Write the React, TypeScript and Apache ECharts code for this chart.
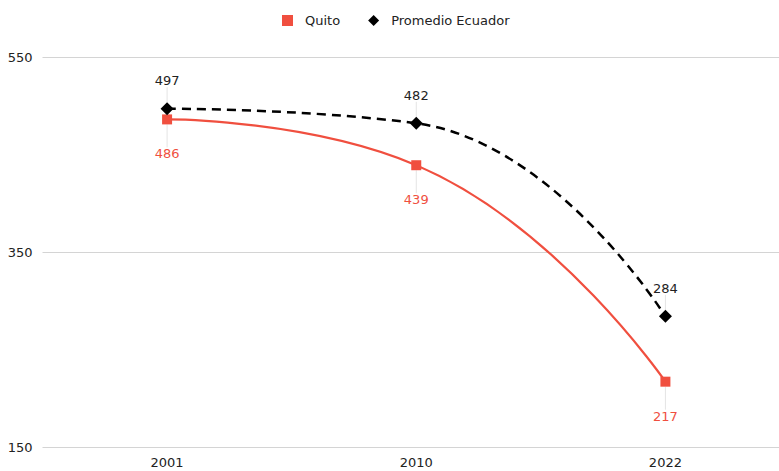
import React, { useEffect, useRef } from "react";
import * as echarts from "echarts";

const categories = ["2001", "2010", "2022"];
const quito = [486, 439, 217];
const promedio = [497, 482, 284];
const yTicks = [150, 350, 550];

const RED = "#F04F3F";
const FONT = "DejaVu Sans";

export default function App() {
  const ref = useRef<HTMLDivElement>(null);
  useEffect(() => {
    if (!ref.current) return;
    const chart = echarts.init(ref.current, null, { renderer: "svg" });
    chart.setOption({
      animation: false,
      textStyle: { fontFamily: FONT },
      legend: {
        top: 9,
        left: 277,
        itemWidth: 11,
        itemHeight: 11,
        itemGap: 28,
        textStyle: { fontFamily: FONT, fontSize: 13, color: "#222", padding: [0, 0, 0, 7] },
        data: [
          { name: "Quito", icon: "rect" },
          { name: "Promedio Ecuador", icon: "diamond" },
        ],
      },
      grid: { left: 42.5, top: 57, right: 0, bottom: 24 },
      xAxis: {
        type: "category",
        data: categories,
        boundaryGap: true,
        axisLine: { show: false },
        axisTick: { show: false },
        axisLabel: { color: "#222", fontFamily: FONT, fontSize: 13, margin: 9 },
      },
      yAxis: {
        type: "value",
        min: yTicks[0],
        max: yTicks[yTicks.length - 1],
        interval: 200,
        axisLabel: { color: "#222", fontFamily: FONT, fontSize: 13, margin: 10 },
        splitLine: { lineStyle: { color: "#d4d4d4", width: 1 } },
      },
      series: [
        {
          name: "Quito",
          type: "line",
          data: quito,
          smooth: 0.5,
          symbol: "rect",
          symbolSize: 10,
          itemStyle: { color: RED },
          lineStyle: { color: RED, width: 2.2 },
          label: {
            show: true,
            position: "bottom",
            color: RED,
            fontFamily: FONT,
            fontSize: 13,
            distance: 5,
          },
          labelLayout: { dy: 18 },
          labelLine: { show: true, lineStyle: { color: "#e4e4e4", width: 1 } },
          z: 2,
        },
        {
          name: "Promedio Ecuador",
          type: "line",
          data: promedio,
          smooth: 0.5,
          symbol: "diamond",
          symbolSize: 13,
          itemStyle: { color: "#000" },
          lineStyle: { color: "#000", width: 2.5, type: [9, 6] },
          label: {
            show: true,
            position: "top",
            color: "#222",
            fontFamily: FONT,
            fontSize: 13,
            distance: 5,
          },
          labelLayout: { dy: -10 },
          labelLine: { show: true, lineStyle: { color: "#e4e4e4", width: 1 } },
          z: 3,
        },
      ],
    });
    return () => chart.dispose();
  }, []);
  return (
    <div style={{ width: 779, height: 471, position: "absolute", left: 0, top: 0, overflow: "hidden" }}>
      <div ref={ref} style={{ width: 790, height: 471 }} />
    </div>
  );
}
